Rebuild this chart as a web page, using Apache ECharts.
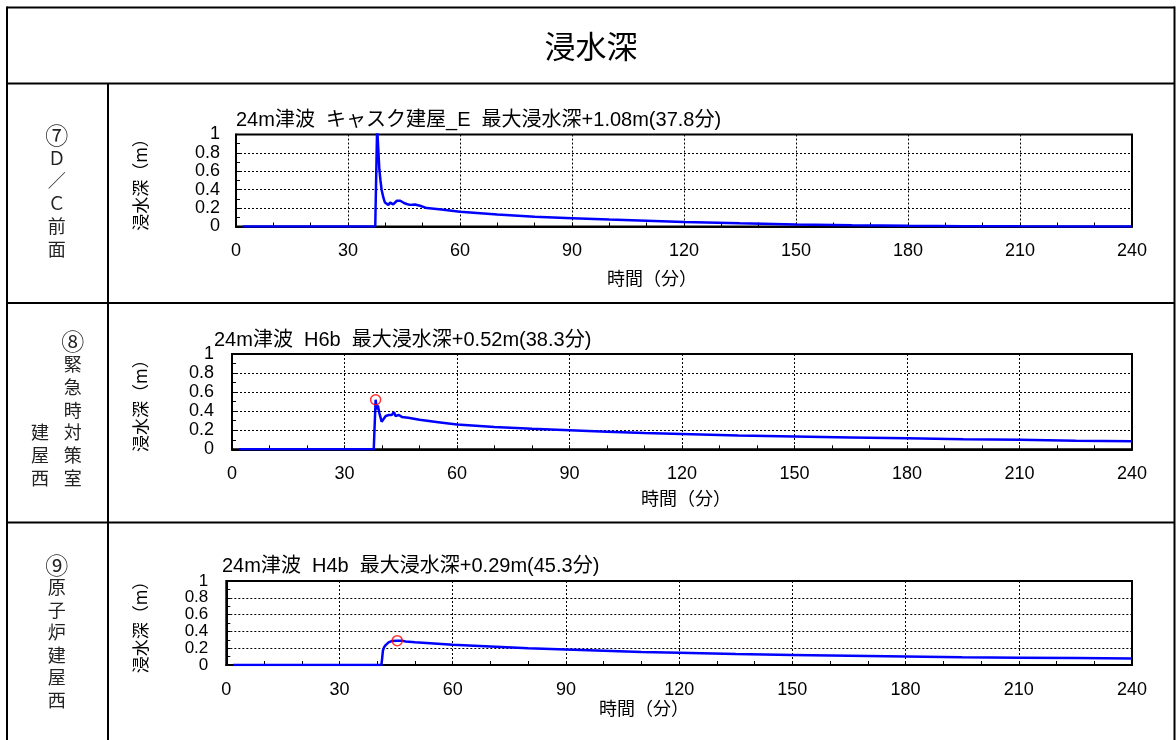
<!DOCTYPE html>
<html>
<head>
<meta charset="utf-8">
<script src="https://cdn.jsdelivr.net/npm/echarts@6/dist/echarts.min.js"></script>
<style>
  html, body { margin: 0; padding: 0; background: #fff; }
  #main { width: 1176px; height: 740px; }
</style>
</head>
<body>
<div id="main"></div>
<script>
// 浸水深の時系列（読み取り値）
const timeE = [1.8, 37.3, 37.8, 38.1, 38.4, 38.7, 39.0, 39.5, 39.9, 40.4, 40.8, 41.3, 41.7, 42.1, 42.6, 43.1, 43.5, 44.0, 44.4, 45.0, 45.7, 46.6, 47.9, 49.3, 51.1, 55, 60, 70, 80, 90, 100, 110, 120, 135, 150, 165, 180, 195, 210, 225, 240];
const depthE = [0, 0, 1.08, 0.85, 0.62, 0.5, 0.40, 0.31, 0.26, 0.24, 0.235, 0.26, 0.245, 0.24, 0.26, 0.28, 0.29, 0.28, 0.27, 0.255, 0.245, 0.235, 0.24, 0.225, 0.2, 0.185, 0.16, 0.13, 0.105, 0.09, 0.075, 0.062, 0.05, 0.035, 0.022, 0.013, 0.007, 0.004, 0.002, 0.001, 0];

const timeH6b = [1.8, 37.8, 38.3, 38.6, 38.9, 39.3, 39.9, 40.4, 41.0, 41.8, 42.6, 43.2, 43.6, 44.5, 45.3, 47, 50, 55, 60, 70, 80, 90, 100, 110, 120, 135, 150, 165, 180, 195, 210, 225, 240];
const depthH6b = [0, 0, 0.52, 0.42, 0.46, 0.38, 0.29, 0.31, 0.35, 0.36, 0.36, 0.39, 0.35, 0.36, 0.34, 0.33, 0.31, 0.285, 0.26, 0.235, 0.215, 0.2, 0.185, 0.17, 0.16, 0.145, 0.135, 0.125, 0.115, 0.105, 0.1, 0.09, 0.085];

const timeH4b = [1.8, 41.1, 41.3, 41.5, 41.8, 42.3, 43.0, 43.8, 45.3, 46.5, 47.5, 50, 55, 60, 70, 80, 90, 100, 110, 120, 135, 150, 165, 180, 195, 210, 225, 240];
const depthH4b = [0, 0, 0.08, 0.17, 0.21, 0.24, 0.27, 0.285, 0.29, 0.29, 0.28, 0.27, 0.255, 0.24, 0.22, 0.2, 0.185, 0.17, 0.155, 0.145, 0.13, 0.12, 0.11, 0.1, 0.092, 0.087, 0.082, 0.077];

const peakH6b = [38.3, 0.52];
const peakH4b = [45.3, 0.29];

const chartTitles = [
  '24m津波  キャスク建屋_E  最大浸水深+1.08m(37.8分)',
  '24m津波  H6b  最大浸水深+0.52m(38.3分)',
  '24m津波  H4b  最大浸水深+0.29m(45.3分)'
];
const yName = '浸水深（m）';
const xName = '時間（分）';

const chart = echarts.init(document.getElementById('main'));

const LATIN = "'Liberation Sans', 'Noto Sans CJK JP', sans-serif";
const CJK = "'Noto Sans CJK JP', sans-serif";

// 各グラフの配置
const grids = [
  { left: 236, top: 134.5, width: 896, height: 92, titleLeft: 236, titleTop: 110, yGap: 87, yLabelMargin: 16, yLabelSize: 18, xNameX: 652, xNameY: 278 },
  { left: 232, top: 354, width: 900, height: 95.3, titleLeft: 214, titleTop: 330, yGap: 83, yLabelMargin: 18, yLabelSize: 18, xNameX: 686, xNameY: 498 },
  { left: 226.3, top: 581, width: 905.7, height: 84, titleLeft: 222, titleTop: 556, yGap: 77, yLabelMargin: 18, yLabelSize: 17, xNameX: 644, xNameY: 708 }
];

const seriesData = [
  timeE.map((t, i) => [t, depthE[i]]),
  timeH6b.map((t, i) => [t, depthH6b[i]]),
  timeH4b.map((t, i) => [t, depthH4b[i]])
];

const gridLine = { show: true, lineStyle: { color: '#000', width: 1, type: [2, 2] } };

// 左欄の縦書き文字
function vText(x, y, str, step) {
  return { type: 'text', x: x, y: y, style: { text: str.split('').join('\n'), font: '18px ' + CJK, fill: '#222', textAlign: 'center', textVerticalAlign: 'top', lineHeight: step } };
}
function circled(x, y, ch) {
  return { type: 'text', x: x, y: y, style: { text: ch, font: '23px ' + CJK, fill: '#222', textAlign: 'center', textVerticalAlign: 'middle' } };
}

const option = {
  animation: false,
  backgroundColor: '#fff',
  title: grids.map((g, i) => ({
    text: chartTitles[i],
    left: g.titleLeft,
    top: g.titleTop,
    padding: 0,
    textStyle: { fontSize: 20, fontWeight: 'normal', color: '#000', fontFamily: LATIN, lineHeight: 20 }
  })),
  grid: grids.map(g => ({
    left: g.left, top: g.top, width: g.width, height: g.height,
    show: true, borderColor: '#000', borderWidth: 2,
    outerBoundsMode: 'none'
  })),
  xAxis: grids.map((g, i) => ({
    type: 'value', gridIndex: i, min: 0, max: 240, interval: 30,
    axisLine: { show: true, lineStyle: { color: '#000', width: 2 } },
    axisTick: { show: true, inside: true, length: 4, lineStyle: { color: '#000' } },
    minorTick: { show: true, splitNumber: 3, length: 4, lineStyle: { color: '#000' } },
    splitLine: gridLine,
    axisLabel: { color: '#000', fontSize: 18, fontFamily: LATIN, margin: 16, showMinLabel: true, showMaxLabel: true }
  })),
  yAxis: grids.map((g, i) => ({
    type: 'value', gridIndex: i, min: 0, max: 1, interval: 0.2,
    name: yName, nameLocation: 'middle', nameRotate: 90, nameGap: g.yGap,
    nameTextStyle: { fontSize: 17, color: '#000', fontFamily: CJK },
    axisLine: { show: true, lineStyle: { color: '#000', width: 2 } },
    axisTick: { show: true, inside: true, length: 4, lineStyle: { color: '#000' } },
    minorTick: { show: true, splitNumber: 2, length: 4, lineStyle: { color: '#000' } },
    splitLine: gridLine,
    axisLabel: {
      color: '#000', fontSize: g.yLabelSize, fontFamily: LATIN, margin: g.yLabelMargin, lineHeight: 13,
      interval: 0, showMinLabel: true, showMaxLabel: true, hideOverlap: false
    }
  })),
  series: [
    ...seriesData.map((d, i) => ({
      type: 'line', xAxisIndex: i, yAxisIndex: i, data: d,
      showSymbol: false, clip: true,
      lineStyle: { color: '#0000ff', width: 2.5 }
    })),
    {
      type: 'scatter', xAxisIndex: 1, yAxisIndex: 1, data: [peakH6b],
      symbol: 'circle', symbolSize: 10, z: 5,
      itemStyle: { color: 'none', borderColor: '#ff0000', borderWidth: 1.5 }
    },
    {
      type: 'scatter', xAxisIndex: 2, yAxisIndex: 2, data: [peakH4b],
      symbol: 'circle', symbolSize: 10, z: 5,
      itemStyle: { color: 'none', borderColor: '#ff0000', borderWidth: 1.5 }
    }
  ],
  graphic: [
    // 表の罫線
    { type: 'line', shape: { x1: 7, y1: 7.5, x2: 1175, y2: 7.5 }, style: { stroke: '#000', lineWidth: 2 } },
    { type: 'line', shape: { x1: 7, y1: 83.5, x2: 1175, y2: 83.5 }, style: { stroke: '#000', lineWidth: 2 } },
    { type: 'line', shape: { x1: 7, y1: 303, x2: 1175, y2: 303 }, style: { stroke: '#000', lineWidth: 2 } },
    { type: 'line', shape: { x1: 7, y1: 522.5, x2: 1175, y2: 522.5 }, style: { stroke: '#000', lineWidth: 2 } },
    { type: 'line', shape: { x1: 7, y1: 6.5, x2: 7, y2: 740 }, style: { stroke: '#000', lineWidth: 2 } },
    { type: 'line', shape: { x1: 1174.5, y1: 6.5, x2: 1174.5, y2: 740 }, style: { stroke: '#000', lineWidth: 2 } },
    { type: 'line', shape: { x1: 108, y1: 83.5, x2: 108, y2: 740 }, style: { stroke: '#000', lineWidth: 2 } },
    // 見出し
    { type: 'text', x: 591, y: 46, style: { text: '浸水深', font: '31px ' + CJK, fill: '#000', textAlign: 'center', textVerticalAlign: 'middle' } },
    // 左欄
    circled(56.7, 135, '⑦'),
    vText(56.7, 146.4, 'Ｄ／Ｃ前面', 22.8),
    circled(72.7, 341.7, '⑧'),
    vText(72.7, 353, '緊急時対策室', 22.7),
    vText(40, 421.1, '建屋西', 22.7),
    circled(56.7, 565, '⑨'),
    vText(56.7, 576.3, '原子炉建屋西', 22.5),
    // 横軸の名前
    ...grids.map(g => ({
      type: 'text', x: g.xNameX, y: g.xNameY,
      style: { text: xName, font: '18px ' + CJK, fill: '#000', textAlign: 'center', textVerticalAlign: 'middle' }
    }))
  ]
};

chart.setOption(option);
</script>
</body>
</html>
